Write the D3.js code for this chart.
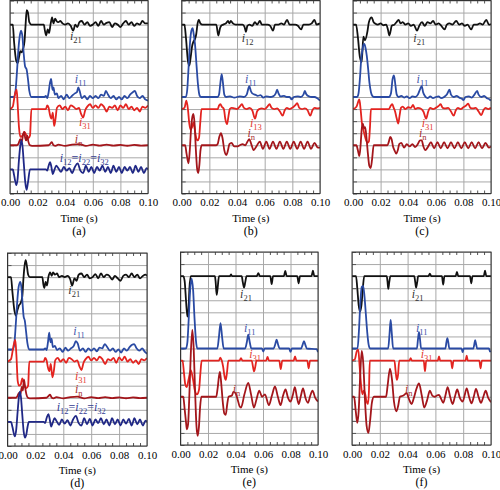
<!DOCTYPE html>
<html><head><meta charset="utf-8">
<script src="https://cdn.jsdelivr.net/npm/d3@7"></script>
<style>html,body{margin:0;padding:0;background:#fff;}svg{display:block;}</style>
</head><body>
<div id="chart"></div>
<script>
// ---------- data (time in ms, value in grid units of the unlabeled current axis) ----------
const timeTicks = [0, 20, 40, 60, 80, 100];
const tickLabels = ["0.00", "0.02", "0.04", "0.06", "0.08", "0.10"];
const minorTicks = [5,10,15,25,30,35,45,50,55,65,70,75,85,90,95];
const panelNames = ["(a)", "(b)", "(c)", "(d)", "(e)", "(f)"];
const xTitle = "Time (s)";

// panel (a)
const a_i21 = [[0,14],[2,14],[3,12.5],[4.5,11],[5.5,10.8],[6.5,11.3],[7.5,11.8],[8.5,11.7],[9.5,12],[10.5,12.6],[11.3,14],[12.1,15.2],[13,15],[14,14.2],[15.5,14],[24.5,14],[25.3,13.5],[26.2,13.1],[27.3,13.6],[28.3,13.3],[29.5,14.1],[30.5,14.6],[31.5,14.1],[32.7,14.5],[33.7,14.3],[35,14.2],[36.5,14.3],[38,14.1],[40,14],[42,14.1],[44,13.9],[45.8,13.5],[47.3,14],[48.8,13.8],[50.3,14.2],[52,14.3],[54,14],[56,14.2],[58,13.9],[60,14],[62,14.2],[64,13.9],[66,14.3],[68,14],[70,14.15],[72,14.2],[74,13.8],[76,14.1],[78,14],[80,13.8],[82,14.1],[84,14.3],[86,14],[88,14.2],[90,13.9],[92,14.1],[94,14],[96,14.3],[98,14.1],[100,14.1]];
const a_i11 = [[0,8],[3,8],[4,8.5],[5,10],[6,11.8],[7,13],[8,13.5],[9,13],[10,11.5],[11,10.5],[12,10.3],[13,9.5],[14,8.5],[15.5,8],[25,8],[26,8.1],[27,7.9],[28,8.4],[29,9.2],[29.8,9.5],[30.8,8.6],[31.5,8.8],[32.5,8.2],[34,8.3],[35,7.9],[37,8.1],[39,7.8],[41,8.2],[43,7.9],[45,8.1],[47,8.3],[48.5,8.4],[49.5,8.8],[50.5,8.5],[52,7.9],[54,8.1],[56,7.8],[58,8.1],[60,7.9],[62,8.1],[64,7.9],[66,8.2],[68,8.1],[69.5,8.5],[71,8.2],[73,7.9],[75,8.1],[77,7.8],[79,8],[81,7.8],[83,8.1],[85,7.9],[87,8.2],[89,8.4],[90.5,8.5],[92,8.1],[94,7.9],[96,8.1],[98,7.8],[100,7.7]];
const a_i31 = [[0,7],[2,7.2],[3.5,8.2],[4.8,8.6],[5.5,7.5],[6.5,5.5],[7.5,4.7],[9,4.8],[10.5,5.1],[12,4.8],[13.5,4.6],[14.5,4.8],[15.5,7],[26,7],[27,7.3],[28,7.1],[29,6.5],[30,6.2],[31,6.7],[32,5.6],[33,6.2],[34,7.1],[36,7.3],[38,7],[40,7.2],[42,6.9],[44,7.3],[46,7.2],[48,7],[50,7.1],[51.5,6.6],[53,6.3],[54.5,6.9],[56,7.2],[58,7.4],[60,7.1],[62,7.3],[64,7.1],[66,7.4],[68,7.2],[70,6.8],[72,7.2],[74,7.1],[76,7.3],[78,6.9],[80,7.3],[82,7.1],[84,7.4],[86,7],[88,7.2],[90,6.9],[92,7.1],[94,6.8],[96,7.2],[98,7.1],[100,7.3]];
const a_in = [[0,4],[5,4],[6,4.1],[7.5,4.5],[8.5,4.3],[9.5,4.9],[10.3,5.1],[11,4.6],[11.7,4.4],[12.5,4.8],[13.3,4.3],[14.5,4],[16,3.95],[28,4],[29,4.1],[30.3,4.25],[31.5,4],[33,3.95],[35,4.05],[40,3.95],[45,4.05],[50,4.1],[55,3.95],[60,4.05],[65,3.97],[70,4.05],[75,3.97],[80,4.03],[85,3.96],[90,4.03],[95,3.97],[100,4]];
const a_i12 = [[0,2],[2,2],[3,1.5],[4.5,0.7],[5.5,1.2],[6.5,2.8],[7.5,4],[8.3,4.4],[9,4],[10,2.5],[11,1],[12,0.3],[13,0.9],[14.5,2],[26,2],[27,1.9],[28,2.3],[29,2.6],[30,2.2],[31,1.6],[32,1.9],[33.5,2.3],[35,2.1],[37,1.8],[39,2.2],[41,1.9],[43,2.1],[45,1.7],[47,2.2],[49,2.5],[51,1.9],[53,1.7],[55,2.3],[57,1.8],[59,2.2],[61,1.7],[63,2.2],[65,1.9],[67,2.3],[69,1.8],[71,2.2],[73,1.7],[75,2.3],[77,1.8],[79,2.2],[81,1.7],[83,2.2],[85,1.9],[87,2.2],[89,1.7],[91,2.3],[93,1.8],[95,2.2],[97,1.7],[99,2.1],[100,2]];

// panel (b)
const b_i12 = [[0,14],[2,14],[3,13],[4.5,11],[5.5,10.6],[6.5,11.3],[7.5,12.2],[8.5,12.6],[9.6,12.8],[10.5,13.2],[11.5,14.1],[12.4,14.4],[13.5,14.1],[15,14],[25,14],[26.5,13.1],[27.7,13.7],[28.5,13.9],[30,14],[32,14.1],[33.5,14.3],[34.5,14.1],[35.5,14.3],[37,14.1],[39,14],[42,14],[44,14],[45.5,13.8],[46.4,13.4],[47.5,13.9],[49,14],[51,13.9],[53,14.2],[54.5,14],[56.5,14.3],[58,14],[60,14],[62,14],[64,13.9],[66,13.5],[67.5,14],[70,14],[72,14.1],[74,14],[76.2,14.4],[78,14],[80,14],[82,14],[84,13.9],[86.4,13.6],[88,14],[90,14],[92,14],[94,14.1],[96,14.4],[97.5,14],[100,14.1]];
const b_i11 = [[0,8],[3,8],[4,8.6],[5,10.5],[6,12.5],[7,13.5],[7.9,13.7],[8.7,13.2],[9.6,12.4],[10.8,10.5],[11.8,9],[13,8.1],[14,8],[26,8],[27,8.2],[28,9.2],[28.9,9.9],[29.8,9.2],[30.8,8.2],[32,8],[35,8.05],[38,7.95],[42,8.05],[45,8],[47,8.2],[48.9,8.9],[50,8.5],[51,8.3],[53,8.2],[55,8.1],[57,8.15],[59,7.95],[61,8.05],[64,8],[66,8.05],[68,8.3],[69,8.6],[70,8.3],[71.5,8.05],[74,8.1],[76,8],[78,8],[79.5,7.8],[81,8],[84,8.05],[86,8],[88,8.2],[89,8.5],[90,8.25],[92,8.05],[94,8],[96,8],[98,7.9],[100,7.7]];
const b_i13 = [[0,7],[2,7.1],[3.4,7.7],[4.5,7],[5.5,5.8],[6.5,5.3],[7.5,5.5],[8.5,5.9],[9.5,5.3],[10.5,4.6],[11.5,4.4],[12.5,4.6],[13.5,6],[14.3,7],[26,7],[27,7.3],[28,7.4],[29,7.2],[30.5,7],[31.5,6.2],[32.8,5.75],[33.8,6.4],[34.8,7],[36,7.1],[38,7.05],[40,7],[42,7.2],[43.5,7.4],[45,7.1],[47,7],[49,7.1],[51,6.9],[53,6.2],[54.5,6.8],[56,7],[58,7.05],[60,7],[62,7.2],[63.5,7.4],[65,7.1],[67,7],[69,7.05],[71,6.8],[73,6.45],[74.5,6.9],[76,7.1],[78,7],[80,7.1],[82,7.3],[83.5,7.5],[85,7.1],[87,7],[89,7.05],[91,6.9],[93,6.45],[94.5,6.9],[96,7.1],[98,7.05],[100,7.1]];
const b_in = [[0,4],[2.5,4],[3.5,3.3],[4.9,2.5],[5.8,3.5],[6.8,5.4],[7.8,6.4],[8.5,6.6],[9.3,5.8],[10.3,3.5],[11.2,2],[12,1.7],[12.8,2.4],[13.6,3.6],[14.5,4],[25,4],[26,4.1],[27.2,4.7],[28.4,5],[29.5,4.6],[30.8,3.6],[32.3,3.2],[33.5,3.6],[34.5,4.1],[36,4.2],[38,3.9],[40,3.9],[42,4],[44,4.1],[46,4],[47.5,4.3],[48.9,4.5],[50.3,4.1],[52,3.6],[54,3.9],[56.5,4.3],[58.7,3.7],[61.2,4.3],[63.5,3.7],[66,4.3],[68.5,3.7],[71,4.3],[73.5,3.7],[76,4.3],[78.5,3.7],[81,4.3],[83.5,3.7],[86,4.3],[88.5,3.7],[91,4.3],[93.5,3.7],[96,4.2],[98.5,3.8],[100,3.8]];

// panel (c)
const c_i21 = [[0,14],[2.2,14],[3.5,13],[5,11.3],[6.3,10.9],[7.5,13],[8.7,12.7],[10.4,13.4],[11.5,14.2],[13.5,14.6],[15,14.2],[16,14.1],[18,14],[20,14.1],[22,13.95],[24,14],[25.3,13.6],[26.3,13.1],[27.3,13.5],[28,13.9],[30,14],[31.5,14.2],[33,14.4],[34.5,14.1],[36,14.2],[38,14],[40,14.1],[42,13.9],[44,14],[46.4,13.5],[48,13.9],[50,14.2],[52,13.9],[54,14.2],[56,14.1],[58,14.3],[60,14],[62,14.1],[64,13.9],[66.4,13.6],[68,14],[70,14.1],[72,14],[74.8,14.3],[77,14],[79,14.1],[81,13.9],[83,14],[85.7,13.6],[87.5,14],[90,14],[92,14.1],[94,14],[96.6,14.4],[98.5,14],[100,14.05]];
const c_i11 = [[0,8],[3,8],[4,8.3],[5,9.5],[6,11.2],[7,12],[7.5,12.3],[8.2,12.4],[9,12.1],[10,11.4],[11,10.3],[12,9.1],[13,8.4],[14,8.1],[15.5,8],[26,8],[27.5,8.3],[28.7,9.5],[29.7,9.8],[30.7,9],[31.7,8.2],[33,8],[35,8.1],[37,7.95],[39,8.05],[41,7.9],[43,8.05],[45,8],[47,8.2],[48.8,8.7],[49.8,8.9],[50.8,8.4],[52,8.1],[54,7.9],[56,8.05],[58,7.9],[60,8],[62,8.05],[64,7.9],[66,8],[68,8.2],[69.9,8.6],[71,8.2],[73,8],[75,8.1],[77,7.95],[79,7.85],[80,7.75],[81.5,8],[84,8.05],[86,7.95],[88,8.2],[90,8.5],[91,8.2],[93,8],[95,8.1],[97,7.9],[99,7.8],[100,7.7]];
const c_i31 = [[0,7],[2.5,7.2],[4.6,7.8],[5.5,7],[6.5,5.8],[7.5,5.3],[8.5,4.8],[9.5,4.4],[10.5,4.2],[11.5,4.3],[12.3,5.5],[13,7],[26,7],[27.5,7.3],[28.5,7.4],[29.5,7.1],[30.5,6.8],[31.5,6.3],[32.8,5.8],[33.8,6.5],[34.8,7.1],[36,7.2],[38,7],[40,7.15],[42,7.1],[43.5,7.35],[45,7],[47,7.1],[49,7.05],[51,6.8],[53,6.2],[54.5,6.8],[56,7.1],[58,7],[60,7.1],[62,7.25],[63.5,7.4],[65,7.1],[67,7.05],[69,7.1],[71,6.8],[73,6.45],[74.5,6.9],[76,7.1],[78,7],[80,7.15],[82,7.3],[83.5,7.45],[85,7.1],[87,7.05],[89,7.1],[91,6.8],[93,6.5],[94.5,6.9],[96,7.1],[98,7],[100,7.1]];
const c_in = [[0,4],[2.5,4],[3.5,3.6],[4.6,3.1],[5.5,4],[6.3,5.3],[7.1,5.8],[8,5.4],[8.8,5.5],[9.8,4.6],[10.8,3.3],[11.8,2.3],[12.8,2.1],[13.8,2.8],[15,4],[25,4],[26,4.3],[27,4.7],[28,4.5],[29,3.9],[30,3.6],[31.3,3.3],[32.5,3.6],[33.5,4.1],[35,4.2],[37,3.8],[39,4.1],[41,3.9],[43,4.1],[45,3.85],[47,4.1],[48.5,4.4],[49.8,4.4],[51,3.9],[52.5,3.6],[54,3.8],[56.5,4.25],[58.8,3.75],[61.2,4.25],[63.6,3.75],[66,4.25],[68.5,3.75],[71,4.25],[73.5,3.75],[76,4.25],[78.5,3.75],[81,4.25],[83.5,3.75],[86,4.25],[88.5,3.75],[91,4.25],[93.5,3.75],[96,4.2],[98.5,3.8],[100,3.9]];

// panel (d)
const d_i21 = [[0,14],[2.5,14],[3.5,12.8],[5,11.2],[6.1,10.8],[7,11.2],[8,11.6],[9.6,11.9],[10.6,12.4],[11.5,14],[12.3,15],[13,15.4],[13.8,15],[14.8,14.2],[16,14],[25,14],[25.7,13.4],[26.4,13.1],[27.3,13.6],[28.3,13.3],[29.3,14],[30.5,14.4],[31.7,14.1],[32.7,14.4],[34,14.2],[35.5,14.3],[37,14],[39,14.1],[41,14],[43,14.1],[45,13.8],[46.3,13.3],[48,13.9],[49.5,13.7],[51,14.2],[53,14.3],[55,14],[57,14.2],[59,13.9],[61,14],[63,14.25],[65,13.9],[67,14.3],[69,14],[71,14.2],[73,14.1],[75,13.8],[77,14.1],[79,13.9],[81,13.7],[83,14.1],[85,14.2],[87,14],[89,14.3],[91,14],[93,14.2],[95,13.9],[97,14.1],[99,14.2],[100,14.1]];
const d_i11 = [[0,8],[4,8],[5,8.6],[6,10.2],[7,12],[8,13.2],[9.2,13.6],[10,13.1],[10.8,11.8],[11.6,10.7],[12.4,10.4],[13.3,9.5],[14.3,8.5],[15.5,8],[26,8],[27,8.1],[28,7.95],[29,8.6],[29.9,9.4],[30.8,8.6],[31.6,8.9],[32.5,8.2],[34,8.3],[35.5,7.95],[37.5,8.1],[39.5,7.8],[41.5,8.15],[43.5,7.9],[45.5,8.1],[47.5,8.3],[49,8.7],[50.3,8.5],[52,7.9],[54,8.1],[56,7.8],[58,8.1],[60,7.9],[62,8.1],[64,7.85],[66,8.15],[68,8.1],[69.7,8.45],[71.5,8.2],[73.5,7.9],[75.5,8.1],[77.5,7.8],[79.5,8],[81.5,7.75],[83.5,8.1],[85.5,7.9],[87.5,8.2],[89.3,8.4],[90.8,8.45],[92.5,8.1],[94.5,7.9],[96.5,8.1],[98.5,7.8],[100,7.65]];
const d_i31 = [[0,7],[2.5,7.2],[4.3,8.3],[5.6,8.8],[6.4,7.5],[7.3,5.4],[8.3,5],[9.5,5.1],[10.6,5.6],[11.5,5.3],[12.5,4.9],[13.5,4.8],[14.8,5],[15.6,7],[26,7],[27,7.3],[28,7.1],[29,6.5],[30,6.2],[31,6.8],[32.2,5.7],[33.2,6.2],[34.2,7.1],[36,7.3],[38,7],[40,7.2],[42,6.9],[44,7.3],[46,7.2],[48,7],[50,7.1],[51.6,6.6],[53,6.3],[54.5,6.9],[56,7.2],[58,7.4],[60,7.1],[62,7.3],[64,7.1],[66,7.4],[68,7.2],[70,6.8],[72,7.2],[74,7.1],[76,7.3],[78,6.9],[80,7.35],[82,7.1],[84,7.4],[86,7],[88,7.2],[90,6.9],[92,7.1],[94,6.8],[96,7.2],[98,7.1],[100,7.3]];
const d_in = [[0,4],[6,4],[7,4.1],[8.2,4.4],[9.2,4.3],[10.3,4.9],[11,4.6],[11.8,5.5],[12.6,4.9],[13.5,4.3],[14.6,4],[16,3.95],[28,4],[29,4.1],[30.5,4.25],[31.8,4],[33,3.95],[35,4.05],[40,3.95],[45,4.05],[50,4.1],[55,3.95],[60,4.05],[65,3.97],[70,4.05],[75,3.97],[80,4.03],[85,3.96],[90,4.03],[95,3.97],[100,4]];
const d_i12 = [[0,2],[2.5,2],[3.5,1.6],[5.2,0.8],[6.2,1.3],[7.3,2.9],[8.2,4.1],[8.9,4.5],[9.6,4.1],[10.6,2.6],[11.6,1.2],[12.6,0.7],[13.4,0.9],[14.4,1.6],[15.3,2],[26,2],[27,1.9],[28,2.3],[29.3,2.65],[30.3,2.2],[31.3,1.6],[32.3,1.9],[33.7,2.3],[35,2.1],[37,1.75],[39,2.2],[41,1.85],[43,2.15],[45,1.7],[47,2.2],[49,2.5],[51,1.9],[53,1.7],[55,2.3],[57,1.8],[59,2.25],[61,1.7],[63,2.2],[65,1.9],[67,2.3],[69,1.8],[71,2.2],[73,1.7],[75,2.3],[77,1.8],[79,2.2],[81,1.7],[83,2.2],[85,1.85],[87,2.25],[89,1.7],[91,2.3],[93,1.8],[95,2.2],[97,1.7],[99,2.1],[100,2]];

// panel (e)
const e_i21 = [[0,14],[2,14],[3,13.6],[4,12],[5,10.65],[5.8,11.2],[6.5,13],[7.5,14],[25,14],[25.5,13.6],[26.3,12.45],[27,13],[28,14],[36,14],[36.7,14.15],[37.5,14],[44.5,14],[45.3,13.5],[46.2,13.05],[47.1,13.5],[48,14],[55.5,14],[56.6,14.25],[57.7,14],[65.3,14],[66.3,13.33],[67.3,14],[75.2,14],[76.2,14.43],[77.2,14],[84.9,14],[85.9,13.4],[86.9,14],[95.3,14],[96.3,14.45],[97.3,14],[100,14]];
const e_i11 = [[0,8],[4,8],[5,8.5],[6,10.5],[7,12.8],[8.1,13.8],[9.2,12.8],[10.2,10.5],[11.2,8.7],[12.2,8],[26.8,8],[27.9,8.9],[29.1,10.1],[30.3,8.9],[31.4,8],[47,8],[48.2,8.5],[49.3,9.14],[50.4,8.5],[51.5,8],[59.2,8],[60.2,7.75],[61.2,8],[67.8,8],[68.9,8.35],[69.9,8.73],[70.9,8.35],[72,8],[79,8],[80,7.72],[81,8],[87.7,8],[88.8,8.3],[89.8,8.6],[90.8,8.3],[91.9,8],[99,7.95],[100,7.7]];
const e_i31 = [[0,7],[1.5,7],[2.5,6],[3.5,5],[4.5,4.8],[6,5.5],[7.5,6.2],[9,5.5],[10.5,4.5],[12,4.2],[13.5,4.6],[14.5,6],[15.4,7],[28,7],[29,7.25],[30,7],[31,6.5],[32,5.7],[32.9,5.4],[33.8,6],[34.8,7],[43,7],[44,7.2],[45,7],[51.8,7],[52.7,6.5],[53.5,6.1],[54.4,6.5],[55.3,7],[62.3,7],[63.3,7.3],[64.3,7],[71.8,7],[72.9,6.3],[74,7],[82.3,7],[83.3,7.35],[84.3,7],[92.2,7],[93.2,6.35],[94.2,7],[100,7]];
const e_in = [[0,4],[2,4],[3,3],[4,1.9],[4.6,1.3],[5.5,1.7],[6.4,4],[7.5,7.6],[8.6,9.55],[9.6,8],[10.6,4.5],[11.6,1.6],[12.5,0.75],[13.4,1.5],[14.3,3.2],[15.2,4],[26,4],[27,4.7],[28,5.7],[28.7,6.05],[29.7,5],[30.8,3.5],[31.9,2.6],[32.9,2.5],[34,3.4],[35,4],[37.4,4.1],[38.5,4.4],[40,4.3],[41.5,3.8],[43,3.2],[44,3.1],[46.5,4.2],[49.3,5.15],[51.3,4.2],[53.4,3.1],[55.3,3.8],[57.3,4.5],[59.3,4],[61.4,4.2],[64.3,3.3],[66.5,4.1],[68.7,4.85],[70.8,4],[72.8,3.3],[74.6,4.1],[76.4,4.6],[78.2,3.9],[80,3.6],[81.6,4.1],[83.2,4.8],[84.6,4],[86,3.4],[87.6,4.1],[89.1,4.7],[90.9,3.9],[92.7,3.5],[94.4,4.1],[96,4.5],[98,3.9],[100,3.6]];

// panel (f)
const f_i21 = [[0,14],[2.9,14],[3.8,13],[4.8,11.6],[5.8,11.07],[6.8,11.6],[7.8,13],[8.8,14],[25,14],[25.5,13.6],[26.1,12.94],[26.8,13.5],[27.6,14],[44.8,14],[45.5,13.5],[46.1,13.05],[46.9,13.5],[47.6,14],[55,14],[56,14.2],[57,14],[64.7,14],[65.6,13.3],[66.5,14],[74.6,14],[75.5,14.35],[76.4,14],[84.9,14],[85.8,13.4],[86.7,14],[94.8,14],[95.7,14.45],[96.6,14],[100,14]];
const f_i11 = [[0,8],[4,8],[5,9.5],[6,11.8],[7,13.1],[8,13.2],[9,12.3],[10,10.8],[11,9.3],[12,8.3],[13,8],[26,8],[27,9.2],[27.8,10.38],[28.6,9.3],[29.6,8],[46.7,8],[47.5,8.8],[48.2,9.36],[48.9,8.8],[49.7,8],[67.2,8],[67.9,8.5],[68.6,8.86],[69.3,8.5],[70,8],[78.8,8],[79.6,7.7],[80.4,8],[87.3,8],[88,8.35],[88.6,8.7],[89.3,8.35],[90,8],[98.5,8],[99.3,7.75],[100,7.8]];
const f_i31 = [[0,7],[2,7.1],[3.5,7.8],[4.5,7.9],[5.5,6.5],[6.5,5],[7.5,4.2],[8.5,4.5],[9.5,4.2],[10.5,3.6],[11.5,3.4],[12.2,4.5],[12.8,7],[30.5,7],[31.4,6.1],[32.2,5.4],[33.1,5.8],[34,7],[41.4,7],[42.2,7.2],[43,7],[51.6,7],[52.5,6.1],[53.4,7],[61.8,7],[62.6,7.35],[63.4,7],[71.2,7],[72.1,6.35],[73,7],[81.7,7],[82.5,7.4],[83.3,7],[91.6,7],[92.5,6.35],[93.4,7],[100,7]];
const f_in = [[0,4],[1.5,4],[2.7,2.8],[3.8,1.84],[4.8,2.8],[5.8,5.5],[7,7.8],[8.1,6.8],[9.3,3.8],[10.5,1.6],[11.8,1.0],[13,2],[14.3,3.5],[15.8,4],[24.5,4],[25.6,4.9],[27.3,6.33],[28.8,5.4],[30.2,3.6],[32,2.8],[33.3,3.3],[34.5,4],[37,4.1],[39.3,4.3],[41,3.8],[42.9,3.4],[44.5,3.9],[46.2,4.6],[48.2,5.1],[50.2,4.1],[52,3.1],[54,3.7],[56,4.5],[57.8,4.1],[59.6,4],[61,4.1],[62.6,4.15],[64.2,3.8],[65.7,3.5],[67.2,4.1],[68.8,4.8],[70.6,4],[72.4,3.4],[74,4],[75.7,4.6],[77.6,3.9],[79.6,3.6],[81,4.1],[82.5,4.7],[84.2,4],[86,3.45],[87.6,4],[89.2,4.65],[91,4],[92.8,3.5],[94.5,4],[96.2,4.5],[98,3.9],[100,3.55]];

// ---------- styles / layout ----------
const COL = {k:"#111111", b:"#2a4aa3", r:"#e3231f", dr:"#a3161b", nv:"#202886"};
const LCOL = {k:"#333333", b:"#3f55aa", r:"#e3392f", dr:"#a52e30", nv:"#333b92"};

const panels = [
  {name:panelNames[0], left:10,    top:0.5, w:138,   h:193, traces:[
    {d:a_i21,c:"k",lab:[["i","21"]],at:[43.5,12.7]},
    {d:a_i11,c:"b",lab:[["i","11"]],at:[47,9.2]},
    {d:a_i31,c:"r",lab:[["i","31"]],at:[50,5.6]},
    {d:a_in,c:"dr",lab:[["i","n"]],at:[47,4.2]},
    {d:a_i12,c:"nv",lab:[["i","12"],["i","22"],["i","32"]],at:[36,2.6]}]},
  {name:panelNames[1], left:181.7, top:0.5, w:138.3, h:193, traces:[
    {d:b_i12,c:"k",lab:[["i","12"]],at:[43.4,12.56]},
    {d:b_i11,c:"b",lab:[["i","11"]],at:[45.8,9.17]},
    {d:b_i13,c:"r",lab:[["i","13"]],at:[49.4,5.5]},
    {d:b_in,c:"dr",lab:[["i","n"]],at:[47.5,4.7]}]},
  {name:panelNames[2], left:353,   top:0.5, w:138,   h:193, traces:[
    {d:c_i21,c:"k",lab:[["i","21"]],at:[43.7,12.56]},
    {d:c_i11,c:"b",lab:[["i","11"]],at:[46.1,9.17]},
    {d:c_i31,c:"r",lab:[["i","31"]],at:[49.8,5.5]},
    {d:c_in,c:"dr",lab:[["i","n"]],at:[47.8,4.7]}]},
  {name:panelNames[3], left:7.5,   top:253, w:139.5, h:193, traces:[
    {d:d_i21,c:"k",lab:[["i","21"]],at:[43.6,12.6]},
    {d:d_i11,c:"b",lab:[["i","11"]],at:[47.2,9.2]},
    {d:d_i31,c:"r",lab:[["i","31"]],at:[48.4,5.5]},
    {d:d_in,c:"dr",lab:[["i","n"]],at:[48.4,4.4]},
    {d:d_i12,c:"nv",lab:[["i","12"],["i","22"],["i","32"]],at:[35.3,2.9]}]},
  {name:panelNames[4], left:180.5, top:252, w:137.5, h:193, traces:[
    {d:e_i21,c:"k",lab:[["i","21"]],at:[43.3,12.2]},
    {d:e_i11,c:"b",lab:[["i","11"]],at:[46.2,9.36]},
    {d:e_i31,c:"r",lab:[["i","31"]],at:[50,7.2]},
    {d:e_in,c:"dr",lab:[["i","n"]],at:[38,4.3]}]},
  {name:panelNames[5], left:352,   top:252, w:139,   h:193, traces:[
    {d:f_i21,c:"k",lab:[["i","21"]],at:[43,12.2]},
    {d:f_i11,c:"b",lab:[["i","11"]],at:[46,9.36]},
    {d:f_i31,c:"r",lab:[["i","31"]],at:[49.4,7.2]},
    {d:f_in,c:"dr",lab:[["i","n"]],at:[38.1,4.3]}]}
];

const FONT = "Liberation Serif";
const svg = d3.select("#chart").append("svg").attr("width",500).attr("height",490);

const yGrid = d3.range(0,17);

panels.forEach(p => {
  const x = d3.scaleLinear().domain([0,100]).range([p.left, p.left+p.w]);
  const y = d3.scaleLinear().domain([0,16]).range([p.top+p.h, p.top]);
  const g = svg.append("g");

  const gy = g.append("g").attr("transform",`translate(${p.left},0)`)
    .call(d3.axisLeft(y).tickValues(yGrid).tickSize(-p.w).tickFormat(""));
  gy.select(".domain").remove();
  gy.selectAll("line").attr("stroke","#a8a8a8").attr("stroke-width",1);

  const gx = g.append("g").attr("transform",`translate(0,${p.top+p.h})`)
    .call(d3.axisBottom(x).tickValues(timeTicks).tickSize(-p.h).tickPadding(5)
      .tickFormat((d,i)=>tickLabels[i]));
  gx.attr("font-family",FONT).attr("font-size",11);
  gx.select(".domain").remove();
  gx.selectAll("line").attr("stroke","#a8a8a8").attr("stroke-width",1);
  gx.selectAll("text").attr("font-size",11).attr("fill","#000").attr("font-family",FONT);

  const mb = g.append("g").attr("transform",`translate(0,${p.top+p.h})`)
    .call(d3.axisBottom(x).tickValues(minorTicks).tickSize(-3).tickFormat(""));
  mb.select(".domain").remove();
  mb.selectAll("line").attr("stroke","#555");
  const mt = g.append("g").attr("transform",`translate(0,${p.top})`)
    .call(d3.axisTop(x).tickValues(minorTicks).tickSize(-3).tickFormat(""));
  mt.select(".domain").remove();
  mt.selectAll("line").attr("stroke","#555");
  const ml = g.append("g").attr("transform",`translate(${p.left},0)`)
    .call(d3.axisLeft(y).tickValues(yGrid).tickSize(-4).tickFormat(""));
  ml.select(".domain").remove();
  ml.selectAll("line").attr("stroke","#555");

  const clipId = "clip"+p.name.replace(/[()]/g,"");
  svg.append("clipPath").attr("id",clipId).append("rect")
    .attr("x",p.left).attr("y",p.top).attr("width",p.w).attr("height",p.h);
  const line = d3.line().x(d=>x(d[0])).y(d=>y(d[1])).curve(d3.curveMonotoneX);
  p.traces.forEach(t => {
    g.append("path").attr("d",line(t.d)).attr("fill","none")
      .attr("stroke",COL[t.c]).attr("stroke-width",1.8)
      .attr("stroke-linejoin","round").attr("clip-path",`url(#${clipId})`);
  });

  g.append("rect").attr("x",p.left).attr("y",p.top).attr("width",p.w).attr("height",p.h)
    .attr("fill","none").attr("stroke","#333").attr("stroke-width",1);

  p.traces.forEach(t => {
    const txt = g.append("text").attr("x",x(t.at[0])).attr("y",y(t.at[1]))
      .attr("fill",LCOL[t.c]).attr("font-size",12).attr("font-family",FONT);
    t.lab.forEach((pair,i) => {
      if (i>0) txt.append("tspan").attr("dy",-3).text("=");
      txt.append("tspan").attr("font-style","italic").text(pair[0]);
      txt.append("tspan").attr("dy",3).attr("font-size",8.5).text(pair[1]);
    });
  });

  const cx = p.left + p.w/2;
  g.append("text").attr("x",cx).attr("y",p.top+p.h+28).attr("text-anchor","middle")
    .attr("font-size",11).attr("fill","#000").attr("font-family",FONT).text(xTitle);
  g.append("text").attr("x",cx).attr("y",p.top+p.h+41).attr("text-anchor","middle")
    .attr("font-size",12).attr("fill","#000").attr("font-family",FONT).text(p.name);
});
</script>
</body></html>
